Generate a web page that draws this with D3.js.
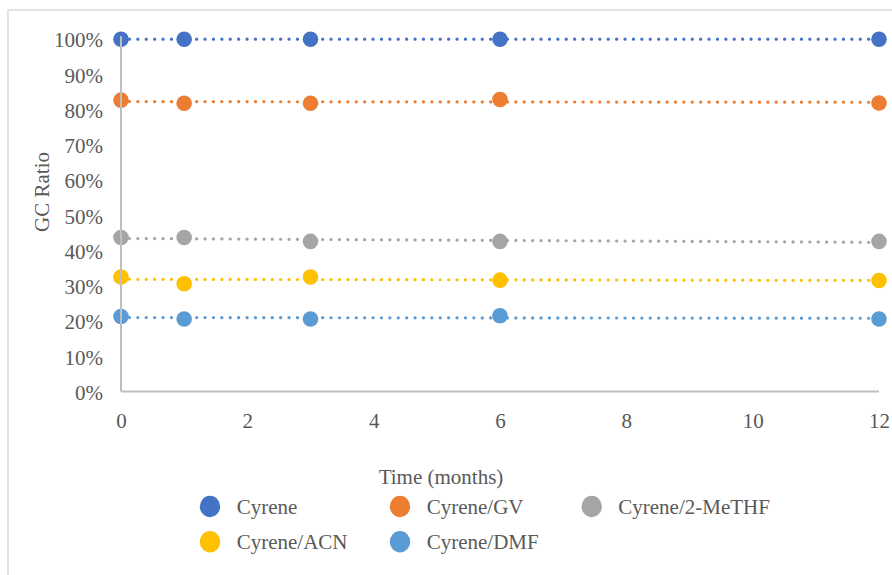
<!DOCTYPE html>
<html>
<head>
<meta charset="utf-8">
<script src="https://cdn.jsdelivr.net/npm/d3@7/dist/d3.min.js"></script>
<style>
  html, body { margin: 0; padding: 0; background: #fff; }
  svg { display: block; }
  text { font-family: "Liberation Serif", "Times New Roman", serif; fill: #595959; }
</style>
</head>
<body>
<svg id="chart" width="892" height="575"></svg>
<script>
// Sampling times (months)
const months = [0, 1, 3, 6, 12];

// GC ratio (fraction) per solvent system
const seriesNames = ["Cyrene", "Cyrene/GV", "Cyrene/2-MeTHF", "Cyrene/ACN", "Cyrene/DMF"];
const cyrene   = [1.000, 1.000, 1.000, 1.000, 1.000];
const cyreneGV = [0.827, 0.818, 0.818, 0.829, 0.819];
const cyreneMe = [0.437, 0.437, 0.426, 0.426, 0.426];
const cyreneAC = [0.325, 0.306, 0.325, 0.316, 0.315];
const cyreneDM = [0.213, 0.206, 0.206, 0.215, 0.206];
const seriesColors = ["#4472C4", "#ED7D31", "#A5A5A5", "#FFC000", "#5B9BD5"];

const xTicks = [0, 2, 4, 6, 8, 10, 12];
const yTicks = [0, 0.1, 0.2, 0.3, 0.4, 0.5, 0.6, 0.7, 0.8, 0.9, 1.0];

const allValues = [cyrene, cyreneGV, cyreneMe, cyreneAC, cyreneDM];
const series = seriesNames.map((name, i) => ({
  name,
  color: seriesColors[i],
  points: months.map((m, j) => ({ x: m, y: allValues[i][j] }))
}));

const svg = d3.select("#chart");

// chart frame
svg.append("rect")
  .attr("x", 8).attr("y", 10)
  .attr("width", 900).attr("height", 600)
  .attr("fill", "none")
  .attr("stroke", "#d9d9d9")
  .attr("stroke-width", 1.5);

const x = d3.scaleLinear().domain([0, 12]).range([121, 879]);
const y = d3.scaleLinear().domain([0, 1]).range([391.5, 39.2]);

// y tick labels
const yAxis = d3.axisLeft(y).tickValues(yTicks).tickSize(0).tickPadding(18)
  .tickFormat(d3.format(".0%"));
const gy = svg.append("g").attr("transform", `translate(${x(0)},1)`).call(yAxis);
gy.select(".domain").remove();
gy.selectAll("text").attr("font-size", 21).attr("fill", "#595959")
  .style("font-family", "'Liberation Serif', serif");

// x tick labels
const xAxis = d3.axisBottom(x).tickValues(xTicks).tickSize(0).tickPadding(22);
const gx = svg.append("g").attr("transform", `translate(0,${y(0)})`).call(xAxis);
gx.select(".domain").remove();
gx.selectAll("text").attr("font-size", 21).attr("fill", "#595959")
  .style("font-family", "'Liberation Serif', serif");

// least-squares trendline for each series
function linearFit(pts) {
  const mx = d3.mean(pts, p => p.x), my = d3.mean(pts, p => p.y);
  let sxy = 0, sxx = 0;
  pts.forEach(p => { sxy += (p.x - mx) * (p.y - my); sxx += (p.x - mx) ** 2; });
  const b = sxx ? sxy / sxx : 0;
  return xv => my + b * (xv - mx);
}

const line = d3.line().x(d => x(d.x)).y(d => y(d.y));

const gSeries = svg.append("g");
series.forEach(s => {
  const f = linearFit(s.points);
  const ends = x.domain().map(v => ({ x: v, y: f(v) }));
  gSeries.append("path")
    .attr("d", line(ends))
    .attr("fill", "none")
    .attr("stroke", s.color)
    .attr("stroke-width", 3.2)
    .attr("stroke-linecap", "round")
    .attr("stroke-dasharray", "0.1 8.3");
});
series.forEach(s => {
  gSeries.selectAll(null).data(s.points).enter().append("circle")
    .attr("cx", d => x(d.x)).attr("cy", d => y(d.y))
    .attr("r", 7.8)
    .attr("fill", s.color);
});

// axis lines
svg.append("line")
  .attr("x1", x(0)).attr("x2", x(0)).attr("y1", y(1) - 3).attr("y2", y(0))
  .attr("stroke", "#bfbfbf").attr("stroke-width", 2);
svg.append("line")
  .attr("x1", x(0)).attr("x2", x(12)).attr("y1", y(0)).attr("y2", y(0))
  .attr("stroke", "#bfbfbf").attr("stroke-width", 2);

// axis titles
svg.append("text")
  .attr("transform", "translate(42,192) rotate(-90)")
  .attr("text-anchor", "middle")
  .attr("dominant-baseline", "central")
  .attr("font-size", 21)
  .text("GC Ratio");
svg.append("text")
  .attr("x", 441).attr("y", 477)
  .attr("text-anchor", "middle")
  .attr("dominant-baseline", "central")
  .attr("font-size", 21)
  .text("Time (months)");

// legend
const legendPos = [
  { cx: 210, tx: 236.7, cy: 506.5 },
  { cx: 400, tx: 426.7, cy: 506.5 },
  { cx: 591.7, tx: 618.3, cy: 506.5 },
  { cx: 210, tx: 236.7, cy: 541.7 },
  { cx: 400, tx: 426.7, cy: 541.7 }
];
const legend = svg.append("g");
series.forEach((s, i) => {
  const p = legendPos[i];
  legend.append("ellipse")
    .attr("cx", p.cx).attr("cy", p.cy)
    .attr("rx", 10.2).attr("ry", 10.7)
    .attr("fill", s.color);
  legend.append("text")
    .attr("x", p.tx).attr("y", p.cy)
    .attr("dominant-baseline", "central")
    .attr("font-size", 21)
    .text(s.name);
});
</script>
</body>
</html>
